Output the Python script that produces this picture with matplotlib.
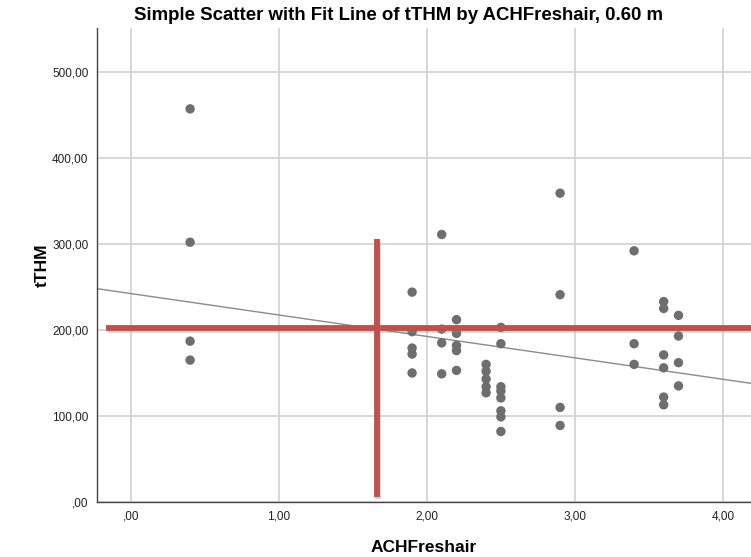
import numpy as np
import matplotlib
matplotlib.use('Agg')
import matplotlib.pyplot as plt
import matplotlib.patheffects as pe

plt.rcParams['font.family'] = ['Liberation Sans', 'DejaVu Sans']

# ACH fresh air vs tTHM
ach_freshair = [0.4, 0.4, 0.4, 0.4,
                1.9, 1.9, 1.9, 1.9, 1.9,
                2.1, 2.1, 2.1, 2.1,
                2.2, 2.2, 2.2, 2.2, 2.2, 2.2,
                2.4, 2.4, 2.4, 2.4, 2.4,
                2.5, 2.5, 2.5, 2.5, 2.5, 2.5, 2.5, 2.5,
                2.9, 2.9, 2.9, 2.9,
                3.4, 3.4, 3.4,
                3.6, 3.6, 3.6, 3.6, 3.6, 3.6,
                3.7, 3.7, 3.7, 3.7]
tthm = [457, 302, 187, 165,
        244, 198, 179, 172, 150,
        311, 201, 185, 149,
        212, 196, 182, 176, 153, 200,
        160, 152, 143, 134, 127,
        203, 184, 134, 129, 121, 106, 99, 82,
        359, 241, 110, 89,
        292, 184, 160,
        233, 225, 171, 156, 122, 113,
        217, 193, 162, 135]

# linear fit line as drawn in the reference
fit_intercept = 242.3
fit_slope = -24.9

# red reference marks
ref_tthm = 202
ref_tthm_xrange = [-0.165, 4.3]
ref_ach = 1.66
ref_ach_yrange = [6, 306]

x_ticks = [0, 1, 2, 3, 4]
x_tick_labels = [',00', '1,00', '2,00', '3,00', '4,00']
y_ticks = [0, 100, 200, 300, 400, 500]
y_tick_labels = [',00', '100,00', '200,00', '300,00', '400,00', '500,00']

fig = plt.figure(figsize=(7.51, 5.57), dpi=100)
ax = fig.add_axes([0.129, 0.0987, 0.871, 0.851])
ax.set_xlim(-0.23, 4.19)
ax.set_ylim(0, 551)

ax.set_xticks(x_ticks)
ax.set_xticklabels(x_tick_labels)
ax.set_yticks(y_ticks)
ax.set_yticklabels(y_tick_labels)
ax.tick_params(length=0, labelsize=8.5, colors='#222222', pad=6)
ax.grid(True, color='#d4d4d4', linewidth=1.3)
ax.set_axisbelow(True)

for side in ['top', 'right']:
    ax.spines[side].set_visible(False)
for side in ['left', 'bottom']:
    ax.spines[side].set_color('#444444')
    ax.spines[side].set_linewidth(1.0)

xs = np.array(ax.get_xlim())
ax.plot(xs, fit_intercept + fit_slope * xs, color='#8a8a8a', linewidth=1.0, zorder=2)

ax.scatter(ach_freshair, tthm, s=46, color='#6e6e6e', edgecolors='none', zorder=3)

shadow = [pe.SimpleLineShadow(offset=(1.0, -1.5), shadow_color='#888888', alpha=0.35), pe.Normal()]
ax.plot(ref_tthm_xrange, [ref_tthm, ref_tthm], color='#c0504d', linewidth=4.2,
        solid_capstyle='butt', path_effects=shadow, zorder=4)
ax.plot([ref_ach, ref_ach], ref_ach_yrange, color='#c0504d', linewidth=4.2,
        solid_capstyle='butt', path_effects=shadow, zorder=4)

ax.set_xlabel('ACHFreshair', fontsize=12.5, fontweight='bold', labelpad=13)
ax.set_ylabel('tTHM', fontsize=12.5, fontweight='bold', labelpad=2)
fig.text(0.531, 0.973, 'Simple Scatter with Fit Line of tTHM by ACHFreshair, 0.60 m',
         ha='center', va='center', fontsize=13.4, fontweight='bold')

fig.savefig('out.png', dpi=100)
